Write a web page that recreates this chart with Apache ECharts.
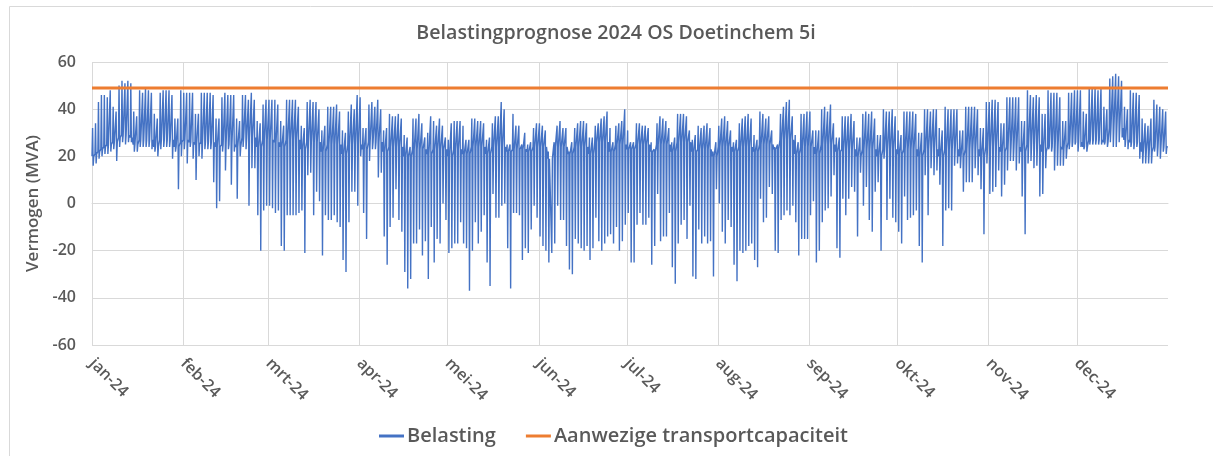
<!DOCTYPE html>
<html>
<head>
<meta charset="utf-8">
<script src="https://cdn.jsdelivr.net/npm/echarts@6/dist/echarts.min.js"></script>
<style>
html,body{margin:0;padding:0;background:#fff;}
#chart{width:1213px;height:456px;}
</style>
</head>
<body>
<div id="chart"></div>
<script>
// ---- data (MVA) ----
const title = 'Belastingprognose 2024 OS Doetinchem 5i';
const yAxisName = 'Vermogen (MVA)';
const seriesNames = ['Belasting', 'Aanwezige transportcapaciteit'];
const monthLabels = ['jan-24','feb-24','mrt-24','apr-24','mei-24','jun-24','jul-24','aug-24','sep-24','okt-24','nov-24','dec-24'];
const yTicks = [-60, -40, -20, 0, 20, 40, 60];
const capacity = 49;

// daily maximum per month
const dayMax = [
  [32,34,43,46,46,45,48,41,39,50,52,51,52,51,39,37,48,47,49,48,47,38,36,47,48,48,48,46,36,36,48],
  [47,47,47,47,38,38,47,47,47,47,46,36,36,45,47,46,46,46,36,35,46,46,44,47,44,35,34,42,44],
  [44,44,44,42,35,33,44,44,44,44,41,33,32,43,44,43,43,40,31,33,41,41,41,42,39,31,30,39,42,40,46],
  [45,32,32,42,43,41,44,40,31,32,38,37,37,38,36,29,28,24,36,36,38,34,28,30,37,35,33,36,33,28],
  [27,34,35,35,35,33,27,27,36,36,35,35,34,27,28,34,37,37,43,40,25,25,38,33,33,25,30,25,26,32,34],
  [34,33,31,22,19,26,33,35,32,32,22,26,32,34,35,35,34,28,28,33,34,36,37,39,32,26,33,34,35,40],
  [31,26,26,34,34,33,33,32,26,23,34,37,36,35,32,26,28,38,38,38,37,31,27,29,33,32,33,34,32,22,26],
  [33,36,37,35,31,26,27,34,36,37,38,36,29,27,39,38,36,37,31,24,25,38,41,43,44,37,29,26,38,38,39],
  [39,31,31,31,40,41,39,42,34,28,28,37,37,37,38,35,28,28,38,39,38,39,36,29,29,40,39,39,40,37],
  [31,29,39,39,39,39,38,30,30,40,40,39,40,40,32,31,41,40,40,40,40,31,31,41,41,41,41,40,32,32,43],
  [43,44,44,43,34,34,45,45,45,45,45,35,35,48,46,45,46,45,38,38,48,47,47,47,45,35,35,47,47,48],
  [48,48,39,38,49,49,49,48,49,41,40,53,54,55,54,52,41,40,48,47,47,46,36,34,33,36,44,42,41,40,39]
];

// daily minimum per month
const dayMin = [
  [16,17,19,20,21,21,22,23,18,24,26,25,26,26,22,22,24,24,24,24,23,22,20,23,24,24,24,19,22,6,20],
  [23,17,24,19,10,20,19,23,23,23,9,-2,1,22,14,23,8,22,2,20,24,23,-1,15,15,-5,-20,-3,-1],
  [-1,-2,-4,-3,-18,-20,-5,-5,-5,-5,-4,-3,-21,12,13,-5,5,1,-22,-5,-7,-7,-5,-8,-10,-24,-29,-8,5,5,-1],
  [20,-4,-15,18,23,23,11,13,-14,-26,-10,-6,6,-7,-12,-29,-36,-32,-17,-17,-11,-22,-16,-32,-10,-25,-15,-17,0,-7],
  [-21,-19,-17,-17,-8,-17,-19,-37,-20,-8,-17,-12,-5,-25,-35,4,-6,-6,-1,0,-19,-36,-4,-4,-5,-24,-19,-21,-11,-1,-6],
  [-14,-18,-20,-25,-21,-17,-1,-7,-7,-18,-28,-30,-15,-17,-19,-20,-18,-24,-19,-6,-16,-20,-17,-14,-13,-17,-10,-20,-16,-9],
  [-4,-25,-25,-9,-4,-9,-9,-6,-26,-18,4,-16,-14,-14,-4,-27,-34,-17,-9,-7,-15,-1,-31,-32,-11,-17,-14,-17,-16,-31,6],
  [0,-12,-17,-7,-10,-26,-33,-20,-21,-20,-18,-17,-24,-27,2,-8,-6,7,4,-20,-21,-7,-5,-3,-5,-1,-8,-22,-15,-15,-15],
  [-5,1,-25,-20,-8,-3,-2,3,12,-19,-23,2,-5,2,7,5,-14,13,-1,7,-7,-12,5,9,-20,19,-7,2,-6,-8],
  [-12,-17,3,-7,-6,-5,-3,-18,-25,12,-5,15,12,14,8,-18,-3,-2,-3,16,17,15,5,9,9,9,15,12,6,-13,17],
  [4,5,7,14,3,8,14,18,18,14,17,3,-13,17,18,15,16,3,4,15,23,22,14,16,16,16,19,23,24,25],
  [22,24,23,22,25,25,25,25,25,25,24,26,24,24,26,28,24,23,24,23,24,19,17,17,17,17,22,20,19,22,21]
];

// night-time base level per day (the darker dotted band)
const dayBase = [
  [20,21,22,23,24,25,25,26,26,28,29,29,29,28,25,25,27,27,27,27,27,24,24,27,27,27,27,27,24,24,26],
  [27,27,26,26,25,25,26,26,26,26,26,24,24,25,25,25,25,25,24,24,28,28,28,28,28,24,24,27,27],
  [27,27,26,26,24,24,27,27,27,27,27,23,23,26,26,26,26,26,22,22,25,25,25,25,25,21,21,25,25,25,25],
  [25,23,23,26,26,26,26,26,22,22,24,24,24,24,24,20,20,20,23,23,23,23,23,21,21,23,23,23,23,23],
  [20,20,23,23,23,21,21,21,24,24,24,24,24,21,21,24,24,24,24,24,22,22,23,23,23,23,23,22,22,24,24],
  [24,24,24,19,19,24,24,24,24,24,21,21,24,24,24,24,24,21,21,26,26,26,26,26,22,22,25,25,25,25],
  [23,23,23,25,25,25,25,25,22,22,25,25,25,25,25,22,22,26,26,26,26,26,22,22,23,23,23,23,23,20,20],
  [24,24,24,24,24,22,22,24,24,24,24,24,22,22,25,25,25,25,25,23,23,27,27,27,27,27,21,21,24,24,24],
  [24,24,21,21,25,25,25,25,25,22,22,23,23,23,23,23,20,20,23,23,23,23,23,20,20,23,23,23,23,23],
  [21,21,23,23,23,23,23,20,20,23,23,23,23,23,20,20,23,23,23,23,23,20,20,23,23,23,23,23,20,20,24],
  [24,24,24,24,22,22,24,24,24,24,24,22,22,25,25,25,25,25,22,22,24,24,24,24,24,23,23,26,26,26],
  [26,26,24,24,27,27,27,27,27,26,26,32,32,32,32,32,27,27,26,26,26,26,22,22,22,22,24,24,24,24,24]
];

// ---- build the category axis and the series from the arrays ----
const PTS = 5; // points per day: base, peak, dip, base, base
const maxF = dayMax.flat(), minF = dayMin.flat(), baseF = dayBase.flat();
const nDays = maxF.length;
const cats = [];
const load = [];
const monthStartIdx = {};
let d = 0;
dayMax.forEach((m, mi) => { monthStartIdx[d * PTS] = monthLabels[mi]; d += m.length; });
for (let i = 0; i < nDays; i++) {
  const seq = [baseF[i], maxF[i], minF[i], baseF[i], baseF[i]];
  for (let k = 0; k < PTS; k++) { cats.push(String(i * PTS + k)); load.push(seq[k]); }
}
cats.push(String(nDays * PTS));
load.push(baseF[nDays - 1]);
const lastIdx = cats.length - 1;

const FONT = 'Open Sans';
const GREY = '#595959';
const GRID = '#d9d9d9';

const chart = echarts.init(document.getElementById('chart'), null, {renderer: 'canvas'});
chart.setOption({
  animation: false,
  backgroundColor: '#ffffff',
  textStyle: {fontFamily: FONT},
  title: {
    text: title, left: 611, top: 18, textAlign: 'center',
    textStyle: {fontFamily: FONT, fontSize: 19.6, fontWeight: 600, color: GREY}
  },
  graphic: [{
    type: 'rect', left: 7, top: 4, silent: true,
    shape: {x: 0, y: 0, width: 1230, height: 470},
    style: {fill: 'none', stroke: GRID, lineWidth: 1}
  }],
  legend: {
    left: 374, top: 421,
    icon: 'rect', itemWidth: 25, itemHeight: 3, itemGap: 30,
    textStyle: {fontFamily: FONT, fontSize: 20, fontWeight: 600, color: GREY, padding: [0,0,0,-2]},
    data: seriesNames
  },
  grid: {left: 92, right: 45, top: 62, bottom: 111, containLabel: false},
  xAxis: {
    type: 'category',
    data: cats,
    boundaryGap: false,
    axisLine: {show: true, lineStyle: {color: GRID}},
    axisTick: {show: false},
    splitLine: {show: true, interval: (idx) => monthStartIdx[idx] !== undefined, lineStyle: {color: GRID, width: 1}},
    axisLabel: {
      interval: (idx) => monthStartIdx[idx] !== undefined,
      formatter: (v, idx) => monthStartIdx[Number(v)] || '',
      rotate: -45, margin: 16,
      fontFamily: FONT, fontSize: 16, fontWeight: 600, color: GREY
    }
  },
  yAxis: {
    type: 'value',
    min: yTicks[0], max: yTicks[yTicks.length - 1], interval: 20,
    name: yAxisName, nameLocation: 'middle', nameGap: 50, nameRotate: 90,
    nameTextStyle: {fontFamily: FONT, fontSize: 17, fontWeight: 600, color: GREY},
    axisLine: {show: false}, axisTick: {show: false},
    splitLine: {lineStyle: {color: GRID, width: 1}},
    axisLabel: {margin: 16, fontFamily: FONT, fontSize: 16, fontWeight: 600, color: GREY}
  },
  series: [
    {
      name: seriesNames[0], type: 'line', data: load,
      showSymbol: false, symbol: 'none', sampling: null,
      lineStyle: {color: '#4472C4', width: 1.4},
      itemStyle: {color: '#4472C4'},
      z: 2
    },
    {
      name: seriesNames[1], type: 'line',
      data: [[0, capacity], [lastIdx, capacity]],
      showSymbol: false, symbol: 'none',
      lineStyle: {color: '#ED7D31', width: 3},
      itemStyle: {color: '#ED7D31'},
      z: 3
    }
  ]
});
</script>
</body>
</html>
